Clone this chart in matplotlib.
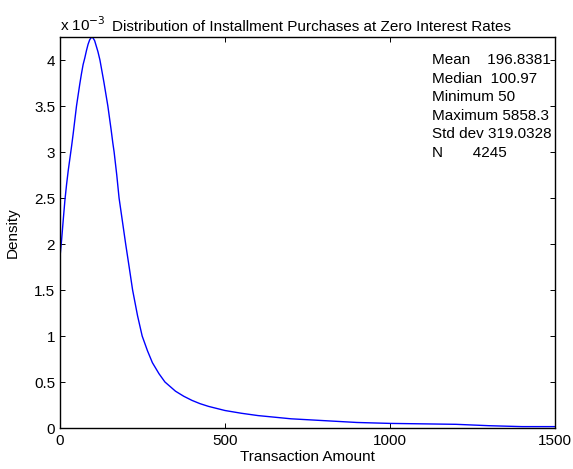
import matplotlib
matplotlib.use("Agg")
import matplotlib.pyplot as plt

plt.rcParams['font.family'] = ['Liberation Sans', 'DejaVu Sans']

# Data (density in units of 1e-3)
amount = [0, 5, 10, 15, 20, 25, 30, 35, 40, 45, 50, 55, 60, 65, 70, 75, 80, 85,
          90, 96, 100, 105, 110, 115, 121, 127, 133, 139, 145, 150, 155, 160,
          164, 172, 179, 189, 199, 210, 220, 235, 249, 265, 280, 300, 318, 350,
          375, 400, 424, 450, 500, 550, 600, 700, 800, 900, 1000, 1100, 1200,
          1300, 1400, 1500]
density = [1.86, 2.05, 2.27, 2.48, 2.65, 2.8, 2.93, 3.06, 3.2, 3.35, 3.5, 3.62,
           3.74, 3.85, 3.95, 4.02, 4.1, 4.17, 4.22, 4.25, 4.24, 4.21, 4.15, 4.09,
           4.0, 3.88, 3.76, 3.63, 3.5, 3.37, 3.24, 3.1, 3.0, 2.75, 2.5, 2.25,
           2.0, 1.74, 1.5, 1.22, 1.0, 0.84, 0.71, 0.59, 0.5, 0.40, 0.345, 0.30,
           0.265, 0.235, 0.19, 0.16, 0.135, 0.10, 0.08, 0.06, 0.05, 0.045, 0.04,
           0.025, 0.015, 0.015]

stat_names = ['Mean', 'Median', 'Minimum', 'Maximum', 'Std dev', 'N']
stat_values = ['196.8381', '100.97', '50', '5858.3', '319.0328', '4245']

W, H = 573, 469
fig = plt.figure(figsize=(W/100, H/100), dpi=100)
L, R, T, B = 60, 555, 37, 428
ax = fig.add_axes([L/W, 1 - B/H, (R-L)/W, (B-T)/H])

ax.plot(amount, density, color='#0000ff', lw=1.0)
ax.set_xlim(0, 1500)
ax.set_ylim(0, 4.25)
ax.set_xticks([0, 500, 1000, 1500])
ax.set_yticks([0, 0.5, 1, 1.5, 2, 2.5, 3, 3.5, 4])
ax.set_yticklabels(['0', '0.5', '1', '1.5', '2', '2.5', '3', '3.5', '4'])
ax.tick_params(direction='in', top=True, right=True, length=3.6, labelsize=11, width=0.7)
ax.tick_params(axis='x', pad=4)
ax.tick_params(axis='y', pad=3.5)
for s in ax.spines.values():
    s.set_linewidth(1.0)

ax.set_xlabel('Transaction Amount', fontsize=11, labelpad=2)
ax.set_ylabel('Density', fontsize=11, labelpad=10)
fig.text(311/W, 1 - 31/H, 'Distribution of Installment Purchases at Zero Interest Rates',
         fontsize=11, ha='center', va='baseline')
fig.text(60/W, 1 - 31/H, r'x 10$^{-3}$', fontsize=11, ha='left', va='baseline')

pad = {'Mean': '    ', 'Median': '  ', 'Minimum': ' ', 'Maximum': ' ', 'Std dev': ' ', 'N': '       '}
lines = [n + pad[n] + v for n, v in zip(stat_names, stat_values)]
for i, line in enumerate(lines):
    fig.text(432/W, 1 - (60 + i*18.6)/H, line, fontsize=11, va='center', ha='left')

fig.savefig('out.png', dpi=100)
